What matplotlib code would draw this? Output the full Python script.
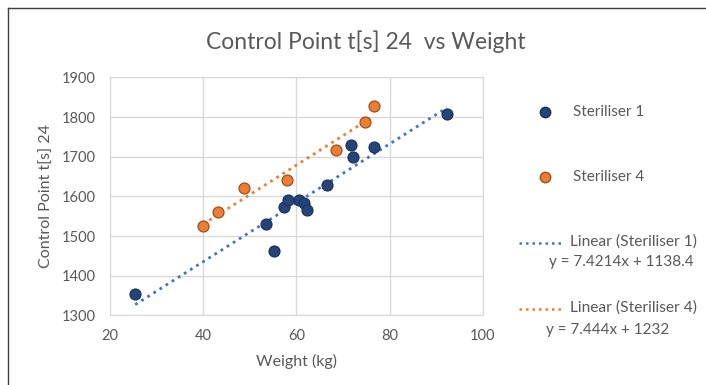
import matplotlib
matplotlib.use("Agg")
import matplotlib.pyplot as plt
from matplotlib.lines import Line2D
import numpy as np

# Data
ster1_weight = [25.4, 53.5, 55.1, 57.4, 58.2, 60.6, 61.6, 62.3, 66.6, 71.7, 72.1, 76.6, 92.3]
ster1_cp = [1355, 1530, 1463, 1574, 1592, 1592, 1584, 1566, 1629, 1729, 1698, 1724, 1807]
ster4_weight = [40.0, 43.2, 48.7, 57.9, 68.4, 74.7, 76.6]
ster4_cp = [1524, 1560, 1622, 1640, 1716, 1787, 1829]

# trendline coefficients as shown in the chart
fit1 = (7.4214, 1138.4)
fit4 = (7.444, 1232)

x_ticks = [20, 40, 60, 80, 100]
y_ticks = [1300, 1400, 1500, 1600, 1700, 1800, 1900]

plt.rcParams['font.family'] = ['Lato', 'DejaVu Sans']
GREY = "#595959"
BLUE_FILL, BLUE_EDGE, BLUE_LINE = "#264478", "#1b3260", "#4472C4"
ORANGE_FILL, ORANGE_EDGE = "#ED7D31", "#9e4f1c"
DOTS = (0, (1, 1.6))

fig = plt.figure(figsize=(7.06, 3.85), dpi=100)
ax = fig.add_axes([0.1558, 0.181, 0.528, 0.618])

# trendlines over each series' x range
for xs, (m, b), col in [(ster1_weight, fit1, BLUE_LINE), (ster4_weight, fit4, ORANGE_FILL)]:
    xr = np.array([min(xs), max(xs)])
    ax.plot(xr, m * xr + b, color=col, linestyle=DOTS, linewidth=2, zorder=2)

ax.scatter(ster1_weight, ster1_cp, s=62, color=BLUE_FILL, edgecolors=BLUE_EDGE, linewidths=0.9, zorder=3)
ax.scatter(ster4_weight, ster4_cp, s=62, color=ORANGE_FILL, edgecolors=ORANGE_EDGE, linewidths=0.9, zorder=3)

ax.set_xlim(20, 100)
ax.set_ylim(1300, 1900)
ax.set_xticks(x_ticks)
ax.set_yticks(y_ticks)
ax.tick_params(length=0, labelsize=10.5, labelcolor=GREY, pad=10)
ax.grid(True, color="#D9D9D9", linewidth=1)
ax.set_axisbelow(True)
for s in ax.spines.values():
    s.set_color("#D9D9D9")

ax.set_xlabel("Weight (kg)", fontsize=11.5, color=GREY, labelpad=8)
ax.set_ylabel("Control Point t[s] 24", fontsize=11.5, color=GREY, labelpad=6)
fig.text(0.518, 1 - 42 / 385, "Control Point t[s] 24  vs Weight", ha="center", va="center",
         fontsize=16.5, color=GREY)

# legend drawn by hand on the right
def fx(px):
    return px / 706
def fy(py):
    return 1 - py / 385

fig.add_artist(Line2D([fx(545)], [fy(112)], marker="o", markersize=7.5, color=BLUE_FILL,
                      markeredgecolor=BLUE_EDGE, linestyle="none"))
fig.text(fx(573), fy(112), "Steriliser 1", va="center", fontsize=11, color=GREY)
fig.add_artist(Line2D([fx(545)], [fy(177)], marker="o", markersize=7.5, color=ORANGE_FILL,
                      markeredgecolor=ORANGE_EDGE, linestyle="none"))
fig.text(fx(573), fy(177), "Steriliser 4", va="center", fontsize=11, color=GREY)

fig.add_artist(Line2D([fx(519), fx(561)], [fy(243), fy(243)], color=BLUE_LINE,
                      linestyle=DOTS, linewidth=1.8))
fig.text(fx(570), fy(242), "Linear (Steriliser 1)", va="center", fontsize=11.2, color=GREY)
fig.text(fx(549), fy(262), "y = %.4fx + %.1f" % fit1, va="center", fontsize=11, color=GREY)

fig.add_artist(Line2D([fx(519), fx(561)], [fy(309), fy(309)], color=ORANGE_FILL,
                      linestyle=DOTS, linewidth=1.8))
fig.text(fx(570), fy(308), "Linear (Steriliser 4)", va="center", fontsize=11.2, color=GREY)
fig.text(fx(546), fy(330), "y = %.3fx + %d" % fit4, va="center", fontsize=11, color=GREY)

# outer chart border (top and left visible in reference)
fig.add_artist(Line2D([fx(8), fx(8)], [fy(8), 0], color="#404040", linewidth=1))
fig.add_artist(Line2D([fx(8), 1], [fy(8), fy(8)], color="#404040", linewidth=1))

fig.savefig("out.png", dpi=100)
